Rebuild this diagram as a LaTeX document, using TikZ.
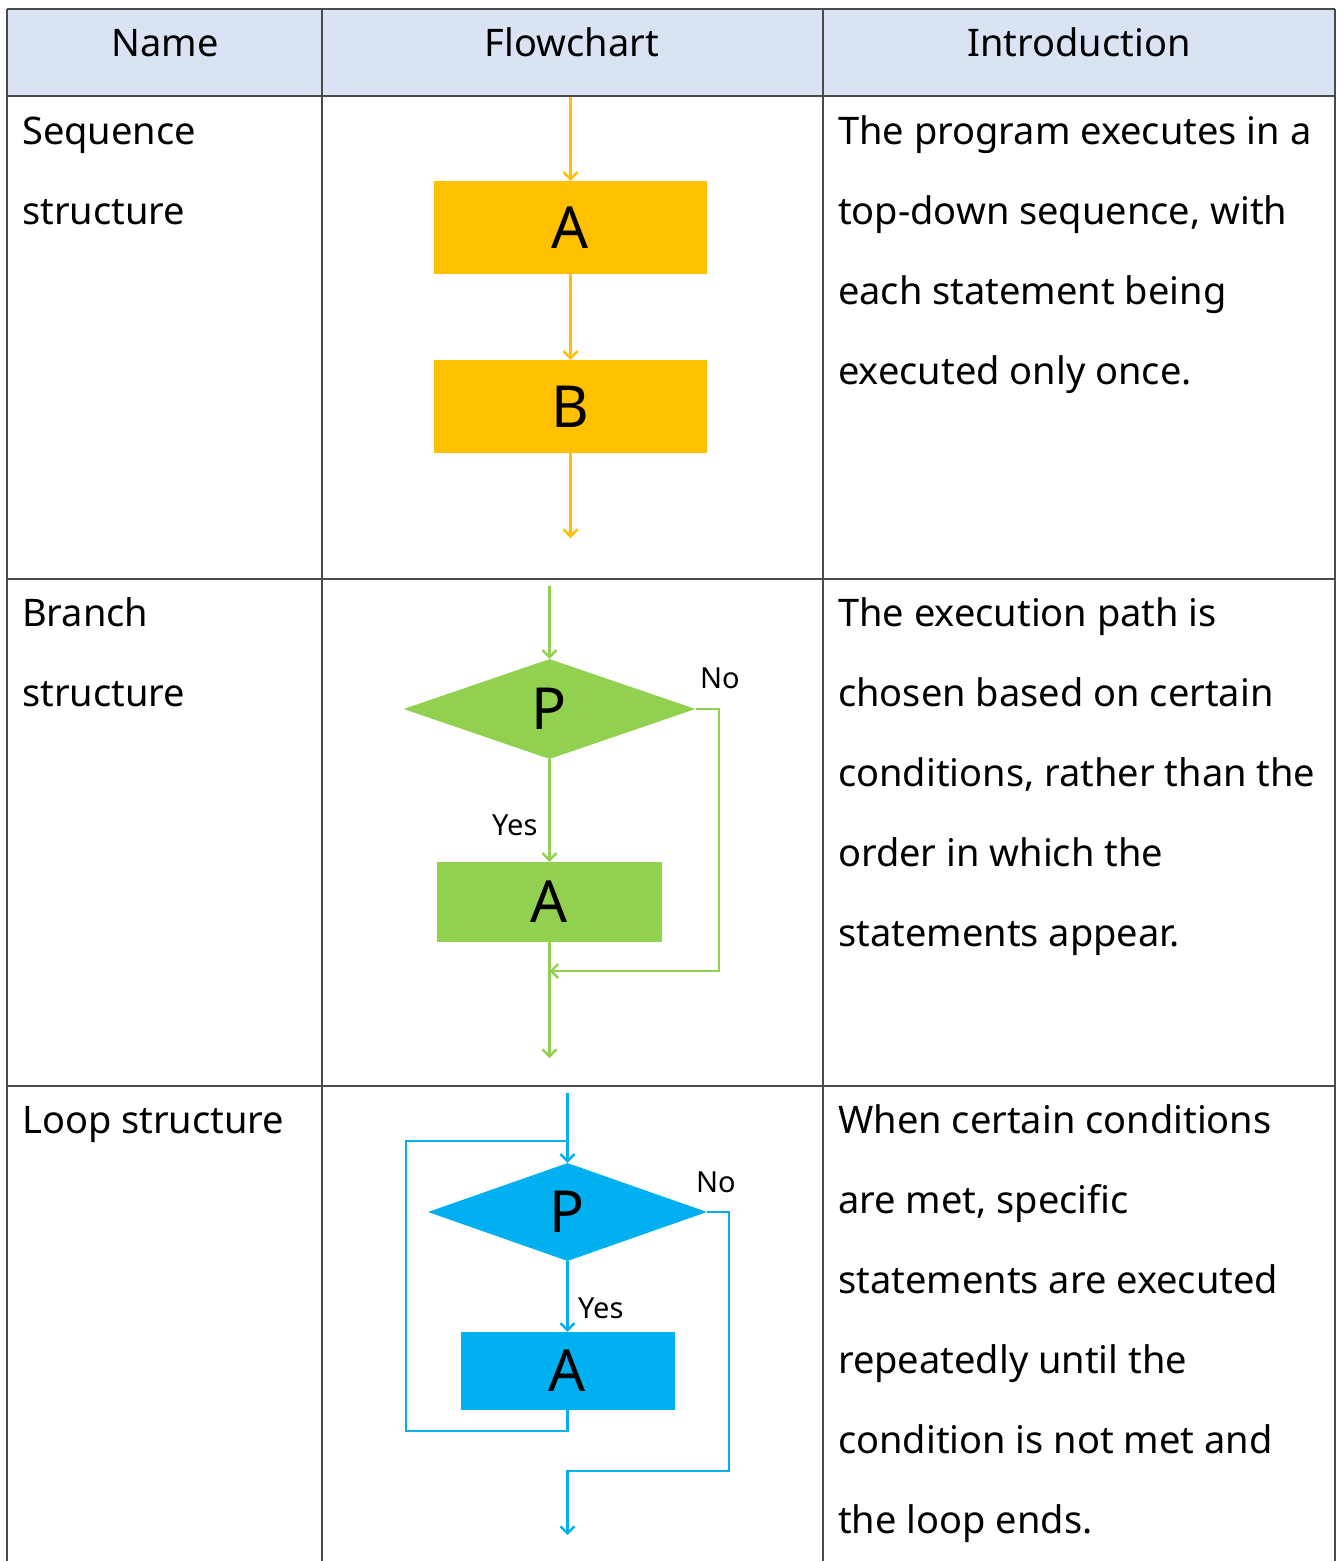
\documentclass[tikz,border=0pt]{standalone}
\usepackage{fontspec}
\setmainfont{Noto Sans}
\usetikzlibrary{shapes.geometric,arrows.meta}

\definecolor{hdrfill}{HTML}{DAE3F3}
\definecolor{rule}{HTML}{4A4A4A}
\definecolor{seqc}{HTML}{FFC000}
\definecolor{brc}{HTML}{92D050}
\definecolor{lpc}{HTML}{00B0F0}

\tikzset{
  x=1pt, y=-1pt,
  rulel/.style={draw=rule, line width=2pt},
  cell/.style={anchor=base west, inner sep=0pt, font=\fontsize{38}{44}\selectfont},
  head/.style={anchor=base, inner sep=0pt, font=\fontsize{38}{44}\selectfont},
  procbox/.style={rectangle, inner sep=0pt, font=\fontsize{58}{60}\selectfont},
  decision/.style={diamond, inner sep=0pt, font=\fontsize{58}{60}\selectfont},
  flow/.style={line width=2.6pt, -{Straight Barb[length=7pt,width=14pt,line width=2.4pt]}},
  link/.style={line width=2.6pt},
  tag/.style={anchor=base west, inner sep=0pt, font=\fontsize{29}{32}\selectfont},
}

\begin{document}
\begin{tikzpicture}
\useasboundingbox (0,0) rectangle (1338,1561);

% header band
\fill[hdrfill] (7,9) rectangle (1335,96);

% table rules
\draw[rulel] (7,9) -- (1335,9);
\draw[rulel] (7,96) -- (1335,96);
\draw[rulel] (7,579) -- (1335,579);
\draw[rulel] (7,1086) -- (1335,1086);
\foreach \cx in {7,322,823,1335} \draw[rulel] (\cx,9) -- (\cx,1561);

% header texts
\node[head] (h1) at (165,56) {Name};
\node[head] (h2) at (572,56) {Flowchart};
\node[head] (h3) at (1079,56) {Introduction};

% names
\node[cell] (n11) at (22,144) {Sequence};
\node[cell] (n12) at (22,224) {structure};
\node[cell] (n21) at (22,626) {Branch};
\node[cell] (n22) at (22,706) {structure};
\node[cell] (n31) at (22,1133) {Loop structure};

% introductions
\node[cell] (t11) at (838,144) {The program executes in a};
\node[cell] (t12) at (838,224) {top-down sequence, with};
\node[cell] (t13) at (838,304) {each statement being};
\node[cell] (t14) at (838,384) {executed only once.};

\node[cell] (t21) at (838,626) {The execution path is};
\node[cell] (t22) at (838,706) {chosen based on certain};
\node[cell] (t23) at (838,786) {conditions, rather than the};
\node[cell] (t24) at (838,866) {order in which the};
\node[cell] (t25) at (838,946) {statements appear.};

\node[cell] (t31) at (838,1133) {When certain conditions};
\node[cell] (t32) at (838,1213) {are met, specific};
\node[cell] (t33) at (838,1293) {statements are executed};
\node[cell] (t34) at (838,1373) {repeatedly until the};
\node[cell] (t35) at (838,1453) {condition is not met and};
\node[cell] (t36) at (838,1533) {the loop ends.};

% ---- sequence structure ----
\node[procbox, fill=seqc, minimum width=273pt, minimum height=93pt] (sa) at (570.5,227.5) {A};
\node[procbox, fill=seqc, minimum width=273pt, minimum height=93pt] (sb) at (570.5,406.5) {B};
\coordinate (s0) at (570.5,97);
\coordinate (s1) at (570.5,538);
\draw[flow, seqc] (s0) -- (sa.north);
\draw[flow, seqc] (sa.south) -- (sb.north);
\draw[flow, seqc] (sb.south) -- (s1);

% ---- branch structure ----
\node[decision, fill=brc, minimum width=292pt, minimum height=100pt] (bp) at (549.5,709) {P};
\node[procbox, fill=brc, minimum width=225pt, minimum height=80pt] (ba) at (549.5,902) {A};
\coordinate (b0) at (549.5,586);
\coordinate (b1) at (549.5,1058);
\coordinate (bx) at (719,971);
\coordinate (bm) at (549.5,971);
\draw[flow, brc] (b0) -- (bp.north);
\draw[flow, brc] (bp.south) -- (ba.north);
\draw[flow, brc] (ba.south) -- (b1);
\draw[flow, brc] (bp.east) -| (bx) -- (bm);
\node[tag] (byes) at (492,835) {Yes};
\node[tag] (bno) at (700,688) {No};

% ---- loop structure ----
\node[decision, fill=lpc, minimum width=279pt, minimum height=98pt] (lp) at (567.5,1212) {P};
\node[procbox, fill=lpc, minimum width=214pt, minimum height=78pt] (la) at (567.5,1371) {A};
\coordinate (l0) at (567.5,1093);
\coordinate (lj) at (567.5,1141);
\coordinate (lbl) at (406,1431);
\coordinate (lr) at (729,1471);
\coordinate (lm) at (567.5,1471);
\coordinate (l1) at (567.5,1535);
\draw[flow, lpc] (l0) -- (lp.north);
\draw[flow, lpc] (lp.south) -- (la.north);
\draw[link, lpc] (la.south) |- (lbl) |- (lj);
\draw[flow, lpc] (lp.east) -| (lr) -- (lm) -- (l1);
\node[tag] (lyes) at (578,1318) {Yes};
\node[tag] (lno) at (696,1192) {No};
\end{tikzpicture}
\end{document}
